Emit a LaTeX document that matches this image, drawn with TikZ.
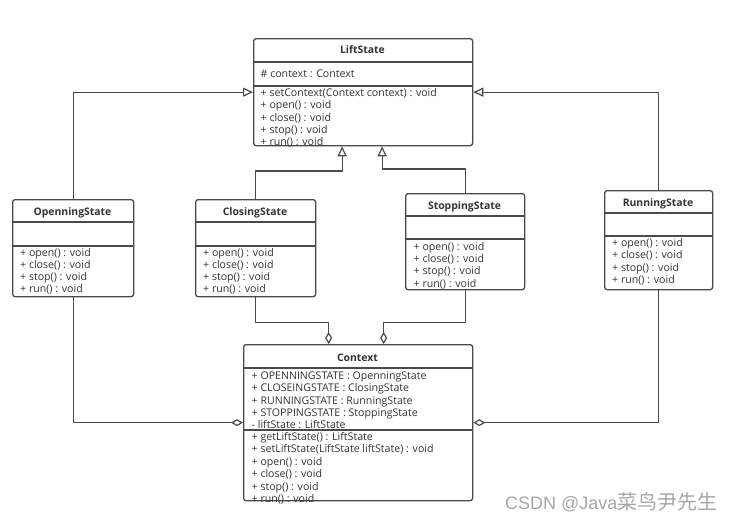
\documentclass[tikz,border=0pt]{standalone}
\usepackage{fontspec}
\setmainfont{Open Sans}
\newfontfamily\wmlatin{Liberation Sans}
\newfontfamily\wmcjk{Noto Sans CJK SC}
\usetikzlibrary{arrows.meta}
\definecolor{ln}{HTML}{4A4A4A}
\definecolor{tx}{HTML}{333333}
\definecolor{wm}{HTML}{A6A6A6}
\newcommand\UmlLines[5]{%
  \foreach \t [count=\i] in {#5} {\node[txt] (#1\i) at (#2,#3+#4*\i-#4) {\t};}}
\begin{document}
\begin{tikzpicture}[x=1pt,y=-1pt,line join=round,
  cls/.style={draw=ln, line width=1.3pt, rounded corners=2.5pt, inner sep=0pt, anchor=north west},
  sepl/.style={draw=ln, line width=1.1pt},
  txt/.style={anchor=base west, inner sep=0pt, text=tx, font=\fontsize{10.6}{12}\selectfont},
  ttl/.style={anchor=base, inner sep=0pt, text=tx, font=\bfseries\fontsize{10.4}{12}\selectfont},
  inh/.style={draw=ln, line width=1.2pt, -{Triangle[open, length=10pt, width=9pt]}},
  agg/.style={draw=ln, line width=1.2pt, -{Diamond[open, length=12pt, width=7pt]}}]
\useasboundingbox (0,0) rectangle (731,525);
% boxes
\node[cls, minimum width=219pt, minimum height=107pt] (lift) at (253,38) {};
\node[cls, minimum width=121pt, minimum height=97pt] (open) at (12,199) {};
\node[cls, minimum width=120pt, minimum height=97pt] (close) at (195,199) {};
\node[cls, minimum width=119pt, minimum height=96pt] (stop) at (405,193) {};
\node[cls, minimum width=108pt, minimum height=99pt] (run) at (604,190) {};
\node[cls, minimum width=229pt, minimum height=156pt] (ctx) at (243,344) {};
% compartments
\foreach \b/\a/\c in {lift/24/48, open/23/47, close/23/47, stop/23/46, run/23/46, ctx/24/86}{
  \draw[sepl] ([yshift=-\a pt]\b.north west) -- ([yshift=-\a pt]\b.north east);
  \draw[sepl] ([yshift=-\c pt]\b.north west) -- ([yshift=-\c pt]\b.north east);
}
% titles
\node[ttl] (liftT) at (362.5,53.7) {LiftState};
\node[ttl] (openT) at (72.5,215.2) {OpenningState};
\node[ttl] (closeT) at (255,215.2) {ClosingState};
\node[ttl] (stopT) at (464.5,209.2) {StoppingState};
\node[ttl] (runT) at (658,206.7) {RunningState};
\node[ttl] (ctxT) at (357.5,361) {Context};
% members
\node[txt] (liftA) at (260.5,77.7) {\# context : Context};
\UmlLines{liftM}{260.5}{96.7}{12.25}{{+ setContext(Context context) : void},{+ open() : void},{+ close() : void},{+ stop() : void},{+ run() : void}}
\UmlLines{openM}{20}{256.7}{12}{{+ open() : void},{+ close() : void},{+ stop() : void},{+ run() : void}}
\UmlLines{closeM}{203}{256.7}{12}{{+ open() : void},{+ close() : void},{+ stop() : void},{+ run() : void}}
\UmlLines{stopM}{413.5}{250.4}{12.2}{{+ open() : void},{+ close() : void},{+ stop() : void},{+ run() : void}}
\UmlLines{runM}{612}{246.4}{12.4}{{+ open() : void},{+ close() : void},{+ stop() : void},{+ run() : void}}
\UmlLines{ctxA}{251.5}{379.4}{12.3}{{+ OPENNINGSTATE : OpenningState},{+ CLOSEINGSTATE : ClosingState},{+ RUNNINGSTATE : RunningState},{+ STOPPINGSTATE : StoppingState},{- liftState : LiftState}}
\UmlLines{ctxM}{251.5}{440.4}{12.5}{{+ getLiftState() : LiftState},{+ setLiftState(LiftState liftState) : void},{+ open() : void},{+ close() : void},{+ stop() : void},{+ run() : void}}
% connectors
\draw[inh] (open.north) |- (lift.west);
\draw[inh] (run.north) |- (lift.east);
\draw[inh] (close.north) -- ++(0,-28) -| ([xshift=-21pt]lift.south);
\draw[inh] (stop.north) -- ++(0,-24) -| ([xshift=19pt]lift.south);
\draw[agg] (close.south) -- ++(0,25) -| ([xshift=-29.5pt]ctx.north);
\draw[agg] (stop.south) -- ++(0,32) -| ([xshift=25.5pt]ctx.north);
\draw[agg] (open.south) |- (ctx.west);
\draw[agg] (run.south) |- (ctx.east);
% watermark
\node[anchor=base west, inner sep=0pt, text=wm] (wm) at (505,509.5) {\wmlatin\fontsize{18}{18}\selectfont CSDN @Java\wmcjk\fontsize{20}{20}\selectfont 菜鸟尹先生};
\end{tikzpicture}
\end{document}
